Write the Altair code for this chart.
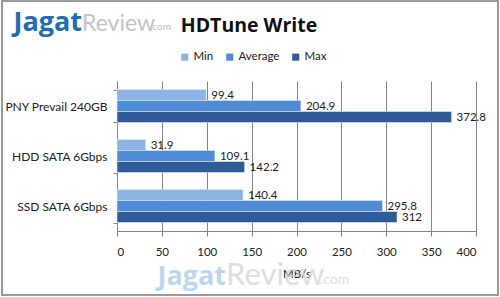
import altair as alt
import pandas as pd

categories = ["PNY Prevail 240GB", "HDD SATA 6Gbps", "SSD SATA 6Gbps"]
series = ["Min", "Average", "Max"]
min_vals = [99.4, 31.9, 140.4]
avg_vals = [204.9, 109.1, 295.8]
max_vals = [372.8, 142.2, 312]
colors = ["#8EB4E3", "#4F8BD6", "#2F5C99"]
x_ticks = [0, 50, 100, 150, 200, 250, 300, 350, 400]

rows = []
for i, c in enumerate(categories):
    for s, vals in zip(series, [min_vals, avg_vals, max_vals]):
        rows.append({"Device": c, "Series": s, "Value": vals[i],
                     "Label": (f"{vals[i]:g}")})
df = pd.DataFrame(rows)

FONT = "Lato"

y_enc = alt.Y("Device:N", sort=categories, title=None,
              scale=alt.Scale(paddingInner=0.34, paddingOuter=0.17),
              axis=alt.Axis(tickBand="extent", labelFontSize=12, labelColor="#222222",
                            labelPadding=6, domainColor="#868686", tickColor="#868686",
                            tickSize=4, labelFont=FONT, grid=False))
x_enc = alt.X("Value:Q", title="MB/s", scale=alt.Scale(domain=[0, 400], nice=False),
              axis=alt.Axis(values=x_ticks, labelFontSize=11.5, labelColor="#222222",
                            labelPadding=10, titleFontSize=11.5, titleFontWeight="normal",
                            titleColor="#222222", titlePadding=11, labelFont=FONT, titleFont=FONT,
                            gridColor="#868686", gridWidth=1, domainColor="#868686",
                            tickColor="#868686", tickSize=5))
yoff = alt.YOffset("Series:N", sort=series,
                   scale=alt.Scale(domain=series, paddingInner=0, paddingOuter=0))

bars = alt.Chart(df).mark_bar(stroke="#dfe9f5", strokeWidth=0.6).encode(
    x=x_enc, y=y_enc, yOffset=yoff,
    color=alt.Color("Series:N", sort=series,
                    scale=alt.Scale(domain=series, range=colors),
                    legend=alt.Legend(title=None, orient="none", direction="horizontal",
                                      legendX=62, legendY=-30, symbolType="square",
                                      symbolSize=50, symbolStrokeWidth=0,
                                      labelFontSize=11.5, labelFont=FONT,
                                      labelColor="#222222", columnPadding=10,
                                      labelOffset=3)),
)

labels = alt.Chart(df).mark_text(align="left", baseline="middle", dx=5, dy=1,
                                 fontSize=11.5, font=FONT, color="#222222").encode(
    x="Value:Q", y=alt.Y("Device:N", sort=categories), yOffset=yoff, text="Label:N")

# decorations: frame, title, logo, watermark
deco_df = pd.DataFrame({"k": [0]})
frame = alt.Chart(deco_df).mark_rect(fill=None, stroke="#9a9a9a", strokeWidth=2).encode(
    x=alt.value(-115), x2=alt.value(381), y=alt.value(-80), y2=alt.value(214))
title = alt.Chart(deco_df).mark_text(text="HDTune Write", fontSize=19.5, fontWeight="bold",
                                     font="Open Sans", color="#111111", align="center",
                                     baseline="alphabetic").encode(
    x=alt.value(132), y=alt.value(-49))
logo1 = alt.Chart(deco_df).mark_text(text="Jagat", fontSize=27, fontWeight="bold",
                                     font="Open Sans", color="#1E6DB6", align="right",
                                     baseline="alphabetic").encode(
    x=alt.value(-35), y=alt.value(-50))
logo2 = alt.Chart(deco_df).mark_text(text="Review", fontSize=23, fontWeight="normal",
                                     font="Lato", color="#C4C4C4", align="left",
                                     baseline="alphabetic").encode(
    x=alt.value(-35), y=alt.value(-50))
logo3 = alt.Chart(deco_df).mark_text(text=".com", fontSize=10, font="Lato",
                                     color="#BDBDBD", align="left",
                                     baseline="alphabetic").encode(
    x=alt.value(33), y=alt.value(-51))
wm1 = alt.Chart(deco_df).mark_text(text="Jagat", fontSize=27, fontWeight="bold",
                                   font="Open Sans", color="#A6C9EA", opacity=0.75,
                                   align="right", baseline="alphabetic").encode(
    x=alt.value(109), y=alt.value(204))
wm2 = alt.Chart(deco_df).mark_text(text="Review", fontSize=31, font="Lato",
                                   color="#D4D4D4", opacity=0.75, align="left",
                                   baseline="alphabetic").encode(
    x=alt.value(109), y=alt.value(204))
wm3 = alt.Chart(deco_df).mark_text(text=".com", fontSize=14, font="Lato",
                                   color="#D4D4D4", opacity=0.75, align="left",
                                   baseline="alphabetic").encode(
    x=alt.value(203), y=alt.value(203))

chart = alt.layer(wm1, wm2, wm3, bars, labels, frame, title, logo1, logo2, logo3).properties(
    width=359, height=150,
    autosize=alt.AutoSizeParams(type="none"),
    padding={"left": 117, "top": 81, "right": 24, "bottom": 66},
    background="white",
).configure_view(stroke=None).configure_axisX(grid=True)

chart.save("out.html", embed_options={"renderer": "svg", "actions": False})
